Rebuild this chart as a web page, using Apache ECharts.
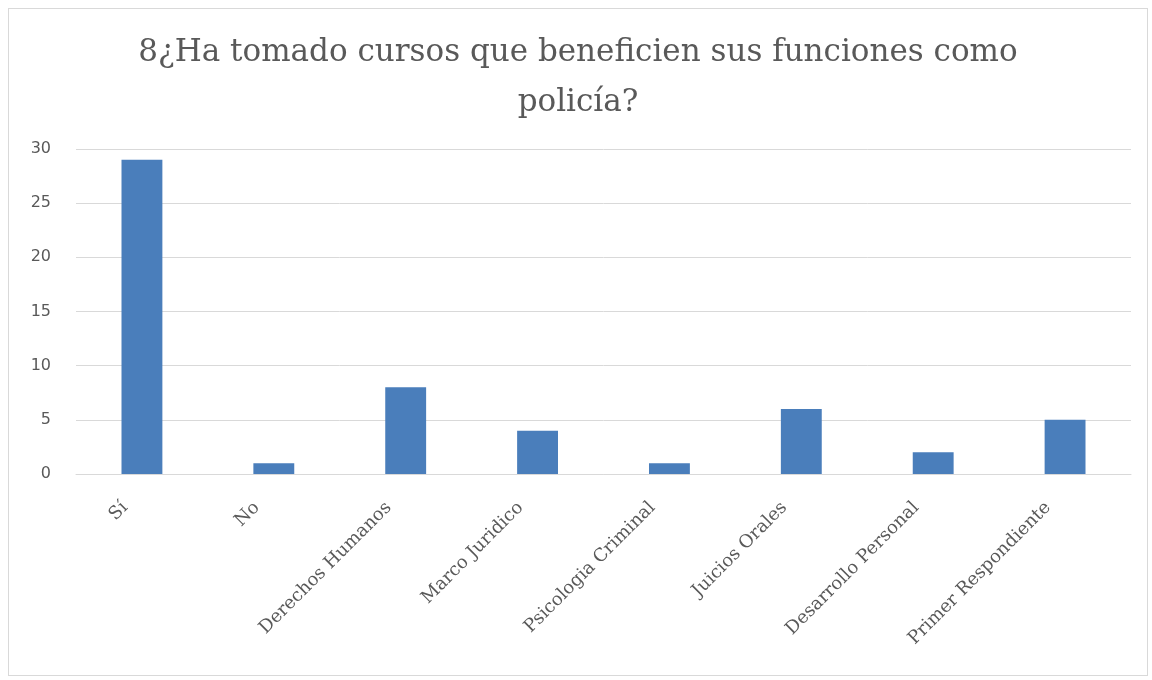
<!DOCTYPE html>
<html>
<head>
<meta charset="utf-8">
<script src="https://cdn.jsdelivr.net/npm/echarts@6/dist/echarts.min.js"></script>
<style>
    html, body { margin: 0; padding: 0; background: #fff; }
    #chart {
        position: absolute; left: 8px; top: 8px;
        width: 1140px; height: 668px;
        border: 1px solid #d9d9d9;
        box-sizing: border-box;
        background-color: #fff;
    }
</style>
</head>
<body>
<div id="chart"></div>
<script>
    var titleText = '8¿Ha tomado cursos que beneficien sus funciones como\npolicía?';
    var categories = ['Sí', 'No', 'Derechos Humanos', 'Marco Juridico', 'Psicologia Criminal', 'Juicios Orales', 'Desarrollo Personal', 'Primer Respondiente'];
    var values = [29, 1, 8, 4, 1, 6, 2, 5];
    var yTicks = { min: 0, max: 30, step: 5 };

    var chart = echarts.init(document.getElementById('chart'));
    var option = {
        animation: false,
        title: {
            text: titleText,
            left: 'center',
            top: 14,
            textStyle: {
                fontFamily: 'DejaVu Serif',
                fontSize: 31,
                fontWeight: 'normal',
                color: '#595959',
                lineHeight: 50
            }
        },
        grid: {
            left: 67,
            right: 16,
            top: 140,
            bottom: 201
        },
        xAxis: {
            type: 'category',
            data: categories,
            axisLine: { lineStyle: { color: '#d9d9d9' } },
            axisTick: { show: false },
            axisLabel: {
                interval: 0,
                rotate: 45,
                margin: 14,
                padding: [0, 24, 0, 0],
                color: '#595959',
                fontFamily: 'DejaVu Serif',
                fontSize: 18
            }
        },
        yAxis: {
            type: 'value',
            min: yTicks.min,
            max: yTicks.max,
            interval: yTicks.step,
            axisLine: { show: false },
            axisTick: { show: false },
            axisLabel: {
                color: '#595959',
                fontFamily: 'DejaVu Sans',
                fontSize: 16,
                margin: 25
            },
            splitLine: { lineStyle: { color: '#d9d9d9' } }
        },
        series: [{
            type: 'bar',
            data: values,
            barWidth: '31%',
            itemStyle: { color: '#4a7ebb' }
        }]
    };
    chart.setOption(option);
</script>
</body>
</html>
